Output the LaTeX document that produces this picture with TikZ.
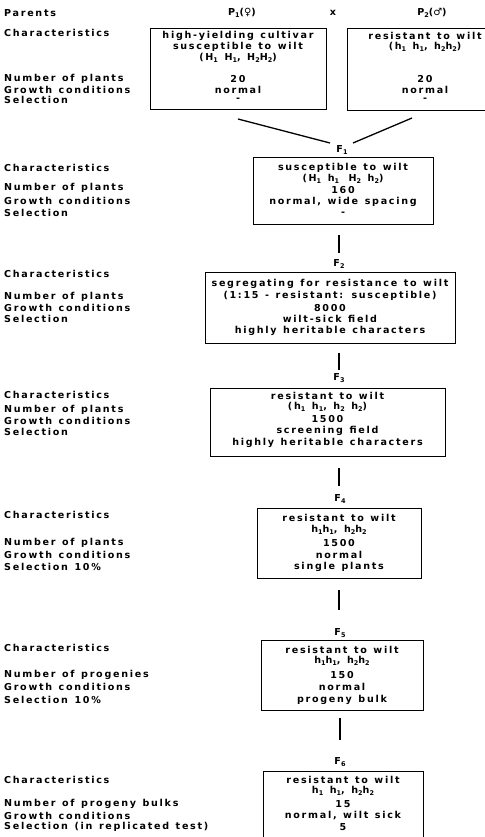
\documentclass[tikz,border=0pt]{standalone}
\usepackage{fontspec}
\newfontfamily\lab{DejaVu Sans Bold}[LetterSpace=18, WordSpace=1.3]
\newfontfamily\symf{DejaVu Sans Bold}
\newcommand\sbs[1]{\raisebox{-0.35ex}{\fontsize{6.5}{6.5}\selectfont #1}}
\tikzset{
  lbl/.style={anchor=west, inner sep=0pt, font=\lab\fontsize{9.6}{9.6}\selectfont},
  txt/.style={inner sep=0pt, font=\lab\fontsize{9.6}{9.6}\selectfont},
  frame/.style={draw, line width=0.8pt, inner sep=0pt, outer sep=0pt},
  conn/.style={line width=1.3pt}
}
\begin{document}
\begin{tikzpicture}[x=1bp, y=-1bp]
\useasboundingbox (0,0) rectangle (485,837);
\clip (0,0) rectangle (485,837);
\fill[white] (0,0) rectangle (485,837);

% header
\node[lbl] (hParents) at (4,13) {Parents};
\node[txt] (hP1) at (242,13) {P\sbs{1}({\symf\fontsize{10}{10}\selectfont ♀})};
\node[txt] (hx) at (333,13) {x};
\node[txt] (hP2) at (432,13) {P\sbs{2}({\symf\fontsize{10}{10}\selectfont ♂})};

% group 0 labels
\node[lbl] (l0a) at (4,33) {Characteristics};
\node[lbl] (l0b) at (4,79) {Number of plants};
\node[lbl] (l0c) at (4,90) {Growth conditions};
\node[lbl] (l0d) at (4,100) {Selection};

% P1 box
\node[frame, minimum width=176bp, minimum height=81bp] (bP1) at (238,68.5) {};
\node[txt] (p1a) at (238,36) {high-yielding cultivar};
\node[txt] (p1b) at (238,47) {susceptible to wilt};
\node[txt] (p1c) at (238,58) {(H\sbs{1} H\sbs{1}, H\sbs{2}H\sbs{2})};
\node[txt] (p1d) at (238,79) {20};
\node[txt] (p1e) at (238,90) {normal};
\node[txt] (p1f) at (238,100) {-};

% P2 box
\node[frame, minimum width=156bp, minimum height=82bp] (bP2) at (425,69) {};
\node[txt] (p2a) at (425,36) {resistant to wilt};
\node[txt] (p2b) at (425,47) {(h\sbs{1} h\sbs{1}, h\sbs{2}h\sbs{2})};
\node[txt] (p2d) at (425,79) {20};
\node[txt] (p2e) at (425,90) {normal};
\node[txt] (p2f) at (425,100) {-};

% cross to F1
\node[txt] (hF1) at (342,150) {F\sbs{1}};
\coordinate (d1a) at (238,119);
\coordinate (d1b) at (330,143);
\coordinate (d2a) at (412,118);
\coordinate (d2b) at (353,143);
\draw[conn] (d1a) -- (d1b);
\draw[conn] (d2a) -- (d2b);

% group 1
\node[lbl] (l1a) at (4,168) {Characteristics};
\node[lbl] (l1b) at (4,188) {Number of plants};
\node[lbl] (l1c) at (4,201) {Growth conditions};
\node[lbl] (l1d) at (4,213) {Selection};
\node[frame, minimum width=180bp, minimum height=67bp] (bF1) at (343,190.5) {};
\node[txt] (f1a) at (343,168) {susceptible to wilt};
\node[txt] (f1b) at (343,179) {(H\sbs{1} h\sbs{1}\quad H\sbs{2} h\sbs{2})};
\node[txt] (f1c) at (343,190) {160};
\node[txt] (f1d) at (343,202) {normal, wide spacing};
\node[txt] (f1e) at (343,214) {-};

\coordinate (v1a) at (339,235);
\coordinate (v1b) at (339,253);
\draw[conn] (v1a) -- (v1b);
\node[txt] (hF2) at (339,264) {F\sbs{2}};

% group 2
\node[lbl] (l2a) at (4,274) {Characteristics};
\node[lbl] (l2b) at (4,297) {Number of plants};
\node[lbl] (l2c) at (4,308) {Growth conditions};
\node[lbl] (l2d) at (4,319) {Selection};
\node[frame, minimum width=250bp, minimum height=71bp] (bF2) at (330,307.5) {};
\node[txt] (f2a) at (330,284) {segregating for resistance to wilt};
\node[txt] (f2b) at (330,296) {(1:15 - resistant: susceptible)};
\node[txt] (f2c) at (330,308) {8000};
\node[txt] (f2d) at (330,319) {wilt-sick field};
\node[txt] (f2e) at (330,331) {highly heritable characters};

\coordinate (v2a) at (339,353);
\coordinate (v2b) at (339,370);
\draw[conn] (v2a) -- (v2b);
\node[txt] (hF3) at (339,378) {F\sbs{3}};

% group 3
\node[lbl] (l3a) at (4,395) {Characteristics};
\node[lbl] (l3b) at (4,410) {Number of plants};
\node[lbl] (l3c) at (4,421) {Growth conditions};
\node[lbl] (l3d) at (4,432) {Selection};
\node[frame, minimum width=235bp, minimum height=68bp] (bF3) at (327.5,422) {};
\node[txt] (f3a) at (327.5,396) {resistant to wilt};
\node[txt] (f3b) at (327.5,407) {(h\sbs{1} h\sbs{1}, h\sbs{2} h\sbs{2})};
\node[txt] (f3c) at (327.5,419) {1500};
\node[txt] (f3d) at (327.5,431) {screening field};
\node[txt] (f3e) at (327.5,443) {highly heritable characters};

\coordinate (v3a) at (339,468);
\coordinate (v3b) at (339,486);
\draw[conn] (v3a) -- (v3b);
\node[txt] (hF4) at (340,499) {F\sbs{4}};

% group 4
\node[lbl] (l4a) at (4,515) {Characteristics};
\node[lbl] (l4b) at (4,543) {Number of plants};
\node[lbl] (l4c) at (4,555) {Growth conditions};
\node[lbl] (l4d) at (4,567) {Selection 10\%};
\node[frame, minimum width=164bp, minimum height=70bp] (bF4) at (339,543) {};
\node[txt] (f4a) at (339,518) {resistant to wilt};
\node[txt] (f4b) at (339,530) {h\sbs{1}h\sbs{1}, h\sbs{2}h\sbs{2}};
\node[txt] (f4c) at (339,543) {1500};
\node[txt] (f4d) at (339,555) {normal};
\node[txt] (f4e) at (339,567) {single plants};

\coordinate (v4a) at (339,590);
\coordinate (v4b) at (339,610);
\draw[conn] (v4a) -- (v4b);
\node[txt] (hF5) at (340,633) {F\sbs{5}};

% group 5
\node[lbl] (l5a) at (4,648) {Characteristics};
\node[lbl] (l5b) at (4,675) {Number of progenies};
\node[lbl] (l5c) at (4,687) {Growth conditions};
\node[lbl] (l5d) at (4,700) {Selection 10\%};
\node[frame, minimum width=162bp, minimum height=70bp] (bF5) at (342,675) {};
\node[txt] (f5a) at (342,650) {resistant to wilt};
\node[txt] (f5b) at (342,661) {h\sbs{1}h\sbs{1}, h\sbs{2}h\sbs{2}};
\node[txt] (f5c) at (342,675) {150};
\node[txt] (f5d) at (342,687) {normal};
\node[txt] (f5e) at (342,700) {progeny bulk};

\coordinate (v5a) at (340,718);
\coordinate (v5b) at (340,740);
\draw[conn] (v5a) -- (v5b);
\node[txt] (hF6) at (340,762) {F\sbs{6}};

% group 6
\node[lbl] (l6a) at (4,780) {Characteristics};
\node[lbl] (l6b) at (4,804) {Number of progeny bulks};
\node[lbl] (l6c) at (4,816) {Growth conditions};
\node[lbl] (l6d) at (4,827) {Selection (in replicated test)};
\node[frame, minimum width=160bp, minimum height=80bp] (bF6) at (343,811) {};
\node[txt] (f6a) at (343,780) {resistant to wilt};
\node[txt] (f6b) at (343,791) {h\sbs{1} h\sbs{1}, h\sbs{2}h\sbs{2}};
\node[txt] (f6c) at (343,804) {15};
\node[txt] (f6d) at (343,816) {normal, wilt sick};
\node[txt] (f6e) at (343,827) {5};
\end{tikzpicture}
\end{document}
